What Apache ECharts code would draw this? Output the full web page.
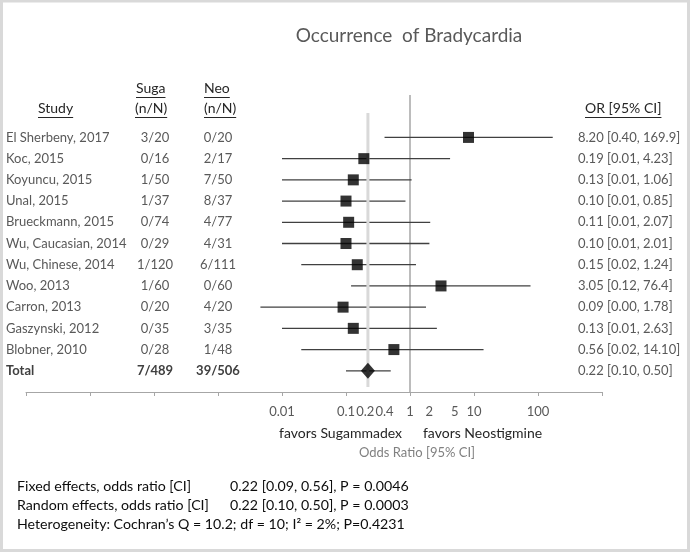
<!DOCTYPE html>
<html><head><meta charset="utf-8">
<script src="https://cdn.jsdelivr.net/npm/echarts@6/dist/echarts.min.js"></script>
<style>html,body{margin:0;padding:0;background:#fff}#c{width:690px;height:552px}</style>
</head><body><div id="c"></div>
<script>
// ---- data ----
const studies = ['El Sherbeny, 2017','Koc, 2015','Koyuncu, 2015','Unal, 2015','Brueckmann, 2015','Wu, Caucasian, 2014','Wu, Chinese, 2014','Woo, 2013','Carron, 2013','Gaszynski, 2012','Blobner, 2010'];
const sugaEvents = [3,0,1,1,0,0,1,1,0,0,0];
const sugaTotals = [20,16,50,37,74,29,120,60,20,35,28];
const neoEvents  = [0,2,7,8,4,4,6,0,4,3,1];
const neoTotals  = [20,17,50,37,77,31,111,60,20,35,48];
const oddsRatio  = [8.20,0.19,0.13,0.10,0.11,0.10,0.15,3.05,0.09,0.13,0.56];
const ciLow      = [0.40,0.01,0.01,0.01,0.01,0.01,0.02,0.12,0.0046,0.01,0.02];
const ciHigh     = [169.9,4.23,1.06,0.85,2.07,2.01,1.24,76.4,1.78,2.63,14.10];
const pooledOR   = 0.22;
const pooledLow  = 0.10;
const pooledHigh = 0.50;
const tickLabels = [0.01,0.1,0.2,0.4,1,2,5,10,100];
const axisMin = 1e-6, axisMax = 1000;
const statsLabels = ['Fixed effects, odds ratio [CI]','Random effects, odds ratio [CI]'];
const statsValues = ['0.22 [0.09, 0.56], P = 0.0046','0.22 [0.10, 0.50], P = 0.0003'];
const heterogeneity = 'Heterogeneity: Cochran\u2019s Q = 10.2; df = 10; I\u00B2 = 2%; P=0.4231';

// ---- helpers ----
const FONT = 'Lato, "Noto Sans", sans-serif';
const L = Math.log10;
const sum = a => a.reduce((s, v) => s + v, 0);
const fmtHi = v => v >= 50 ? v.toFixed(1) : v.toFixed(2);
const nRows = studies.length;
const ctx = document.createElement('canvas').getContext('2d');
function tw(text, font) { ctx.font = font; return ctx.measureText(text).width; }

const chart = echarts.init(document.getElementById('c'), null, {renderer: 'canvas'});

const ciData = studies.map((s, i) => [L(ciLow[i]), L(ciHigh[i]), i]);
ciData.push([L(pooledLow), L(pooledHigh), nRows]);
const sqData = studies.map((s, i) => [L(oddsRatio[i]), i]);
const tableData = studies.map((s, i) => [0, i]).concat([[0, nRows]]);

function rowTexts(i) {
  if (i === nRows) {
    return ['Total', sum(sugaEvents) + '/' + sum(sugaTotals), sum(neoEvents) + '/' + sum(neoTotals),
      pooledOR.toFixed(2) + ' [' + pooledLow.toFixed(2) + ', ' + pooledHigh.toFixed(2) + ']'];
  }
  return [studies[i], sugaEvents[i] + '/' + sugaTotals[i], neoEvents[i] + '/' + neoTotals[i],
    oddsRatio[i].toFixed(2) + ' [' + ciLow[i].toFixed(2) + ', ' + fmtHi(ciHigh[i]) + ']'];
}

const headerFont = '14px ' + FONT;
const statFont = '14.2px ' + FONT;
const headers = [
  {t: 'Study', x: 38, y: 108}, {t: 'Suga', x: 136, y: 88}, {t: '(n/N)', x: 135, y: 108},
  {t: 'Neo', x: 204, y: 88}, {t: '(n/N)', x: 204, y: 108}, {t: 'OR [95% CI]', x: 585, y: 108}
];
const graphics = [
  {type: 'rect', shape: {x: 1.5, y: 1, width: 687, height: 549.5}, style: {fill: 'none', stroke: '#d9d9d9', lineWidth: 3}, z: 100},
  {type: 'text', style: {text: 'Occurrence  of Bradycardia', x: 409, y: 36, align: 'center', verticalAlign: 'middle', font: '19px ' + FONT, fill: '#595959'}},
  {type: 'text', style: {text: 'favors Sugammadex', x: 402, y: 433, align: 'right', verticalAlign: 'middle', font: '14px ' + FONT, fill: '#262626'}},
  {type: 'text', style: {text: 'favors Neostigmine', x: 423, y: 433, align: 'left', verticalAlign: 'middle', font: '14px ' + FONT, fill: '#262626'}},
  {type: 'text', style: {text: 'Odds Ratio [95% CI]', x: 417, y: 453, align: 'center', verticalAlign: 'middle', font: '13px ' + FONT, fill: '#808080'}},
  {type: 'text', style: {text: heterogeneity, x: 17, y: 524, align: 'left', verticalAlign: 'middle', font: statFont, fill: '#0d0d0d'}}
];
statsLabels.forEach((t, k) => {
  graphics.push({type: 'text', style: {text: t, x: 17, y: 486 + k * 19, align: 'left', verticalAlign: 'middle', font: statFont, fill: '#0d0d0d'}});
  graphics.push({type: 'text', style: {text: statsValues[k], x: 230, y: 486 + k * 19, align: 'left', verticalAlign: 'middle', font: statFont, fill: '#0d0d0d'}});
});
headers.forEach(h => {
  graphics.push({type: 'text', style: {text: h.t, x: h.x, y: h.y, align: 'left', verticalAlign: 'middle', font: headerFont, fill: '#262626'}});
  graphics.push({type: 'line', shape: {x1: h.x, y1: h.y + 9.5, x2: h.x + tw(h.t, headerFont), y2: h.y + 9.5}, style: {stroke: '#262626', lineWidth: 1}});
});

const option = {
  animation: false,
  grid: {left: 26, right: 88, top: 95, bottom: 160},
  xAxis: {
    type: 'value', min: L(axisMin), max: L(axisMax),
    axisLine: {onZero: false, lineStyle: {color: '#a6a6a6', width: 1}},
    axisTick: {show: true, length: 4, customValues: [-6,-5,-4,-3,-2,-1,0,1,2,3], lineStyle: {color: '#a6a6a6'}},
    axisLabel: {customValues: tickLabels.map(L), formatter: v => String(parseFloat(Math.pow(10, v).toPrecision(3))),
      color: '#595959', fontSize: 13, fontFamily: FONT, margin: 13, hideOverlap: false},
    splitLine: {show: false}
  },
  yAxis: {type: 'value', inverse: true, min: -2, max: 12, show: false},
  graphic: graphics,
  series: [
    {type: 'line', data: [[0, -2], [0, 12]], symbol: 'none', silent: true, z: 1,
      lineStyle: {color: '#a6a6a6', width: 1.5}},
    {type: 'custom', z: 2, silent: true, data: ciData, encode: {x: [0, 1], y: 2},
      renderItem: (p, api) => {
        const a = api.coord([api.value(0), api.value(2)]);
        const b = api.coord([api.value(1), api.value(2)]);
        return {type: 'line', shape: {x1: a[0], y1: a[1], x2: b[0], y2: b[1]}, style: {stroke: '#404040', lineWidth: 1.3}};
      }},
    {type: 'line', data: [[L(pooledOR), -1.15], [L(pooledOR), 11.76]], symbol: 'none', silent: true, z: 3,
      lineStyle: {color: '#d9d9d9', width: 3}},
    {type: 'scatter', data: sqData, symbol: 'rect', symbolSize: 11, z: 4, silent: true, itemStyle: {color: '#000'}},
    {type: 'scatter', data: [[L(pooledOR), nRows]], symbol: 'diamond', symbolSize: [14, 16], z: 4, silent: true, itemStyle: {color: '#000'}},
    {type: 'custom', z: 5, silent: true, data: tableData, encode: {x: 0, y: 1},
      renderItem: (p, api) => {
        const i = api.value(1);
        const y = api.coord([0, i])[1];
        const tot = i === nRows;
        const font = (tot ? 'bold ' : '') + '13px ' + FONT;
        const fill = tot ? '#404040' : '#595959';
        const t = rowTexts(i);
        const mk = (text, x, align, f, c) => ({type: 'text', style: {text, x, y, align, verticalAlign: 'middle', font: f, fill: c}});
        return {type: 'group', children: [
          mk(t[0], 6, 'left', font, fill), mk(t[1], 155, 'center', font, fill), mk(t[2], 218, 'center', font, fill),
          mk(t[3], 578, 'left', '13px ' + FONT, '#595959')]};
      }}
  ]
};
chart.setOption(option);
</script></body></html>
